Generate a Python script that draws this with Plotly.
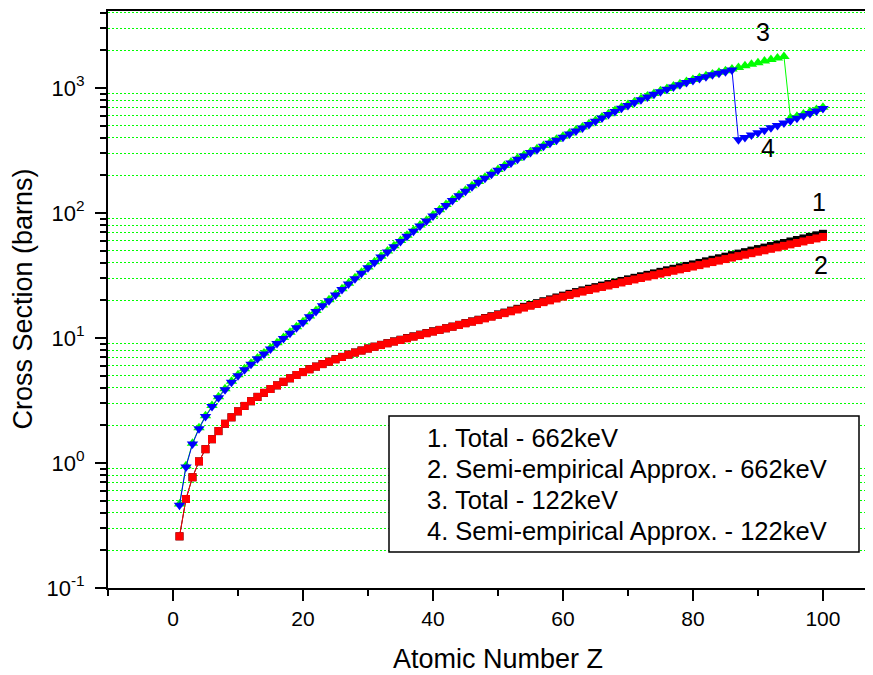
import plotly.graph_objects as go

# ---------------- data ----------------
Z = list(range(1, 101))

total_662 = [
    0.259, 0.515, 0.769, 1.03, 1.29, 1.55, 1.80, 2.06, 2.32, 2.59,
    2.86, 3.12, 3.38, 3.64, 3.91, 4.18, 4.46, 4.76, 5.06, 5.34,
    5.63, 5.91, 6.19, 6.47, 6.77, 7.07, 7.37, 7.66, 7.95, 8.25,
    8.53, 8.82, 9.10, 9.40, 9.69, 10.0, 10.31, 10.64, 10.97, 11.32,
    11.61, 11.97, 12.34, 12.75, 13.17, 13.58, 14.00, 14.46, 14.93, 15.45,
    15.97, 16.55, 17.12, 17.75, 18.37, 19.00, 19.68, 20.36, 21.09, 21.83,
    22.56, 23.30, 24.04, 24.78, 25.52, 26.27, 27.01, 27.76, 28.61, 29.46,
    30.31, 31.17, 32.02, 32.88, 33.84, 34.81, 35.78, 36.75, 37.72, 38.79,
    39.87, 41.05, 42.24, 43.43, 44.73, 46.02, 47.33, 48.62, 50.03, 51.45,
    52.86, 54.39, 55.92, 57.55, 59.19, 60.83, 62.57, 64.41, 66.26, 68.16]

semi_662 = [
    0.259, 0.515, 0.769, 1.03, 1.29, 1.55, 1.80, 2.06, 2.32, 2.59,
    2.86, 3.12, 3.38, 3.64, 3.91, 4.18, 4.46, 4.76, 5.06, 5.34,
    5.62, 5.90, 6.18, 6.46, 6.75, 7.05, 7.35, 7.64, 7.93, 8.22,
    8.50, 8.78, 9.06, 9.35, 9.64, 9.94, 10.25, 10.57, 10.90, 11.24,
    11.60, 11.95, 12.30, 12.70, 13.10, 13.50, 13.90, 14.35, 14.80, 15.30,
    15.80, 16.35, 16.90, 17.50, 18.10, 18.70, 19.35, 20.00, 20.70, 21.40,
    22.10, 22.80, 23.50, 24.20, 24.90, 25.60, 26.30, 27.00, 27.80, 28.60,
    29.40, 30.20, 31.00, 31.80, 32.70, 33.60, 34.50, 35.40, 36.30, 37.30,
    38.30, 39.40, 40.50, 41.60, 42.80, 44.00, 45.20, 46.40, 47.70, 49.00,
    50.30, 51.70, 53.10, 54.60, 56.10, 57.60, 59.20, 60.90, 62.60, 64.30]

total_122 = [
    0.47, 0.95, 1.44, 1.91, 2.39, 2.88, 3.39, 3.93, 4.50, 5.07,
    5.67, 6.28, 6.93, 7.59, 8.33, 9.18, 10.1, 11.1, 12.3, 13.5,
    15.0, 16.6, 18.4, 20.2, 22.4, 24.8, 27.4, 30.3, 33.5, 37.0,
    40.8, 45.1, 49.6, 54.6, 60.2, 66.3, 72.8, 80.0, 87.7, 96.4,
    106.4, 116.7, 128.0, 139.7, 152.1, 164.9, 178.7, 192.9, 207.6, 223.0,
    239.5, 255.5, 273.8, 290.7, 309.3, 326.0, 347.0, 366.7, 389.3, 411.4,
    435.8, 460.7, 486.7, 518.7, 550.2, 584.8, 623.4, 661.1, 700.7, 738.3,
    778.0, 819.7, 863.4, 905.1, 948.9, 991.6, 1036, 1080, 1126, 1168,
    1211, 1254, 1296, 1337, 1375, 1420, 1462, 1505, 1549, 1595,
    1642, 1690, 1740, 1790, 575, 595, 619, 645, 673, 702]

semi_122 = [
    0.46, 0.93, 1.42, 1.88, 2.35, 2.83, 3.33, 3.86, 4.42, 4.98,
    5.57, 6.17, 6.81, 7.46, 8.18, 9.02, 9.91, 10.9, 12.1, 13.3,
    14.8, 16.3, 18.1, 19.9, 22.1, 24.4, 27.0, 29.8, 33.0, 36.4,
    40.2, 44.4, 48.8, 53.7, 59.2, 65.2, 71.6, 78.7, 86.3, 94.8,
    104.7, 114.8, 125.9, 137.4, 149.6, 162.2, 175.8, 189.7, 204.2, 219.3,
    235.5, 251.2, 269.2, 285.8, 304.1, 320.6, 341.2, 360.6, 382.8, 404.5,
    428.5, 453.0, 478.6, 510, 541, 575, 613, 650, 689, 726,
    765, 806, 849, 890, 933, 975, 1019, 1062, 1107, 1148,
    1191, 1233, 1274, 1315, 1352, 1393, 385, 402, 420, 439,
    459, 480, 502, 524, 548, 573, 599, 626, 655, 685]

x_major = [0, 20, 40, 60, 80, 100]
x_minor = [-10, 10, 30, 50, 70, 90]
y_major = [0.1, 1, 10, 100, 1000]
y_major_text = ["10<sup>-1</sup>", "10<sup>0</sup>", "10<sup>1</sup>",
                "10<sup>2</sup>", "10<sup>3</sup>"]
y_minor = [m * d for d in (0.1, 1, 10, 100) for m in range(2, 10)] + [2000, 3000, 4000]

legend_lines = ["1. Total - 662keV",
                "2. Semi-empirical Approx. - 662keV",
                "3. Total - 122keV",
                "4. Semi-empirical Approx. - 122keV"]
curve_labels = ["1", "2", "3", "4"]

FONT = "Arial, 'Liberation Sans', sans-serif"

fig = go.Figure()
fig.add_trace(go.Scatter(x=Z, y=total_662, mode="lines+markers",
                         line=dict(color="black", width=1),
                         marker=dict(symbol="square", size=8, color="black"),
                         name=legend_lines[0]))
fig.add_trace(go.Scatter(x=Z, y=semi_662, mode="lines+markers",
                         line=dict(color="red", width=1),
                         marker=dict(symbol="square", size=8, color="red"),
                         name=legend_lines[1]))
fig.add_trace(go.Scatter(x=Z, y=total_122, mode="lines+markers",
                         line=dict(color="#00ff00", width=1),
                         marker=dict(symbol="triangle-up", size=10, color="#00ff00"),
                         name=legend_lines[2]))
fig.add_trace(go.Scatter(x=Z, y=semi_122, mode="lines+markers",
                         line=dict(color="blue", width=1),
                         marker=dict(symbol="triangle-down", size=10, color="blue"),
                         name=legend_lines[3]))

fig.update_xaxes(
    range=[-10, 107.7], tickmode="array", tickvals=x_major,
    ticks="outside", ticklen=11, tickwidth=2, tickcolor="black",
    showline=True, linewidth=2, linecolor="black", mirror=True,
    showgrid=False, zeroline=False,
    tickfont=dict(family=FONT, size=21, color="black"),
    minor=dict(tickmode="array", tickvals=x_minor, ticks="outside",
               ticklen=6, tickwidth=2, tickcolor="black", showgrid=False),
)
fig.update_yaxes(
    type="log", range=[-1, 3.616], tickmode="array",
    tickvals=y_major, ticktext=y_major_text,
    ticks="outside", ticklen=11, tickwidth=2, tickcolor="black",
    showline=True, linewidth=2, linecolor="black", mirror=False,
    showgrid=False, zeroline=False, ticklabelstandoff=6,
    tickfont=dict(family=FONT, size=22, color="black"),
    minor=dict(tickmode="array", tickvals=y_minor, ticks="outside",
               ticklen=6, tickwidth=2, tickcolor="black",
               showgrid=True, gridcolor="#00ff00", griddash="2px,2px", gridwidth=1),
)

# page has an 8px body margin: work in page pixels and shift
OFF = 8
W, H = 873 - OFF, 675 - OFF
PL, PR, PT, PB = 108, 873, 11, 588          # plot area in page pixels
L, T = PL - OFF, PT - OFF
R = 0
B = H - (PB - OFF)
pw, ph = W - L - R, H - T - B


def px(xp):
    return (xp - PL) / pw


def py(yp):
    return (PB - yp) / ph


annotations = [
    dict(text="Atomic Number Z", xref="x", yref="paper", x=50, y=py(659),
         xanchor="center", yanchor="middle", showarrow=False,
         font=dict(family=FONT, size=27, color="black")),
    dict(text="Cross Section (barns)", xref="paper", yref="paper", x=px(22), y=0.5,
         xanchor="center", yanchor="middle", textangle=-90, showarrow=False,
         font=dict(family=FONT, size=27, color="black")),
]
for i, (line, yp) in enumerate(zip(legend_lines, [438, 469, 500, 531])):
    annotations.append(dict(text=line, xref="paper", yref="paper",
                            x=px(425), y=py(yp), xanchor="left", yanchor="middle",
                            align="left", showarrow=False,
                            font=dict(family=FONT, size=25.5, color="black")))
for lab, xp, yp in zip(curve_labels, [819, 821, 763, 768], [202, 265, 32, 148]):
    annotations.append(dict(text=lab, xref="paper", yref="paper", x=px(xp), y=py(yp),
                            xanchor="center", yanchor="middle", showarrow=False,
                            font=dict(family=FONT, size=25, color="black")))

fig.update_layout(
    width=W, height=H, autosize=False,
    margin=dict(l=L, r=R, t=T, b=B, pad=0),
    paper_bgcolor="white", plot_bgcolor="white",
    showlegend=False,
    annotations=annotations,
    shapes=[dict(type="rect", xref="paper", yref="paper",
                 x0=px(389), x1=px(859), y0=py(552), y1=py(416),
                 line=dict(color="black", width=1.5), fillcolor="white", layer="above")],
)

fig.write_html("out.html")
